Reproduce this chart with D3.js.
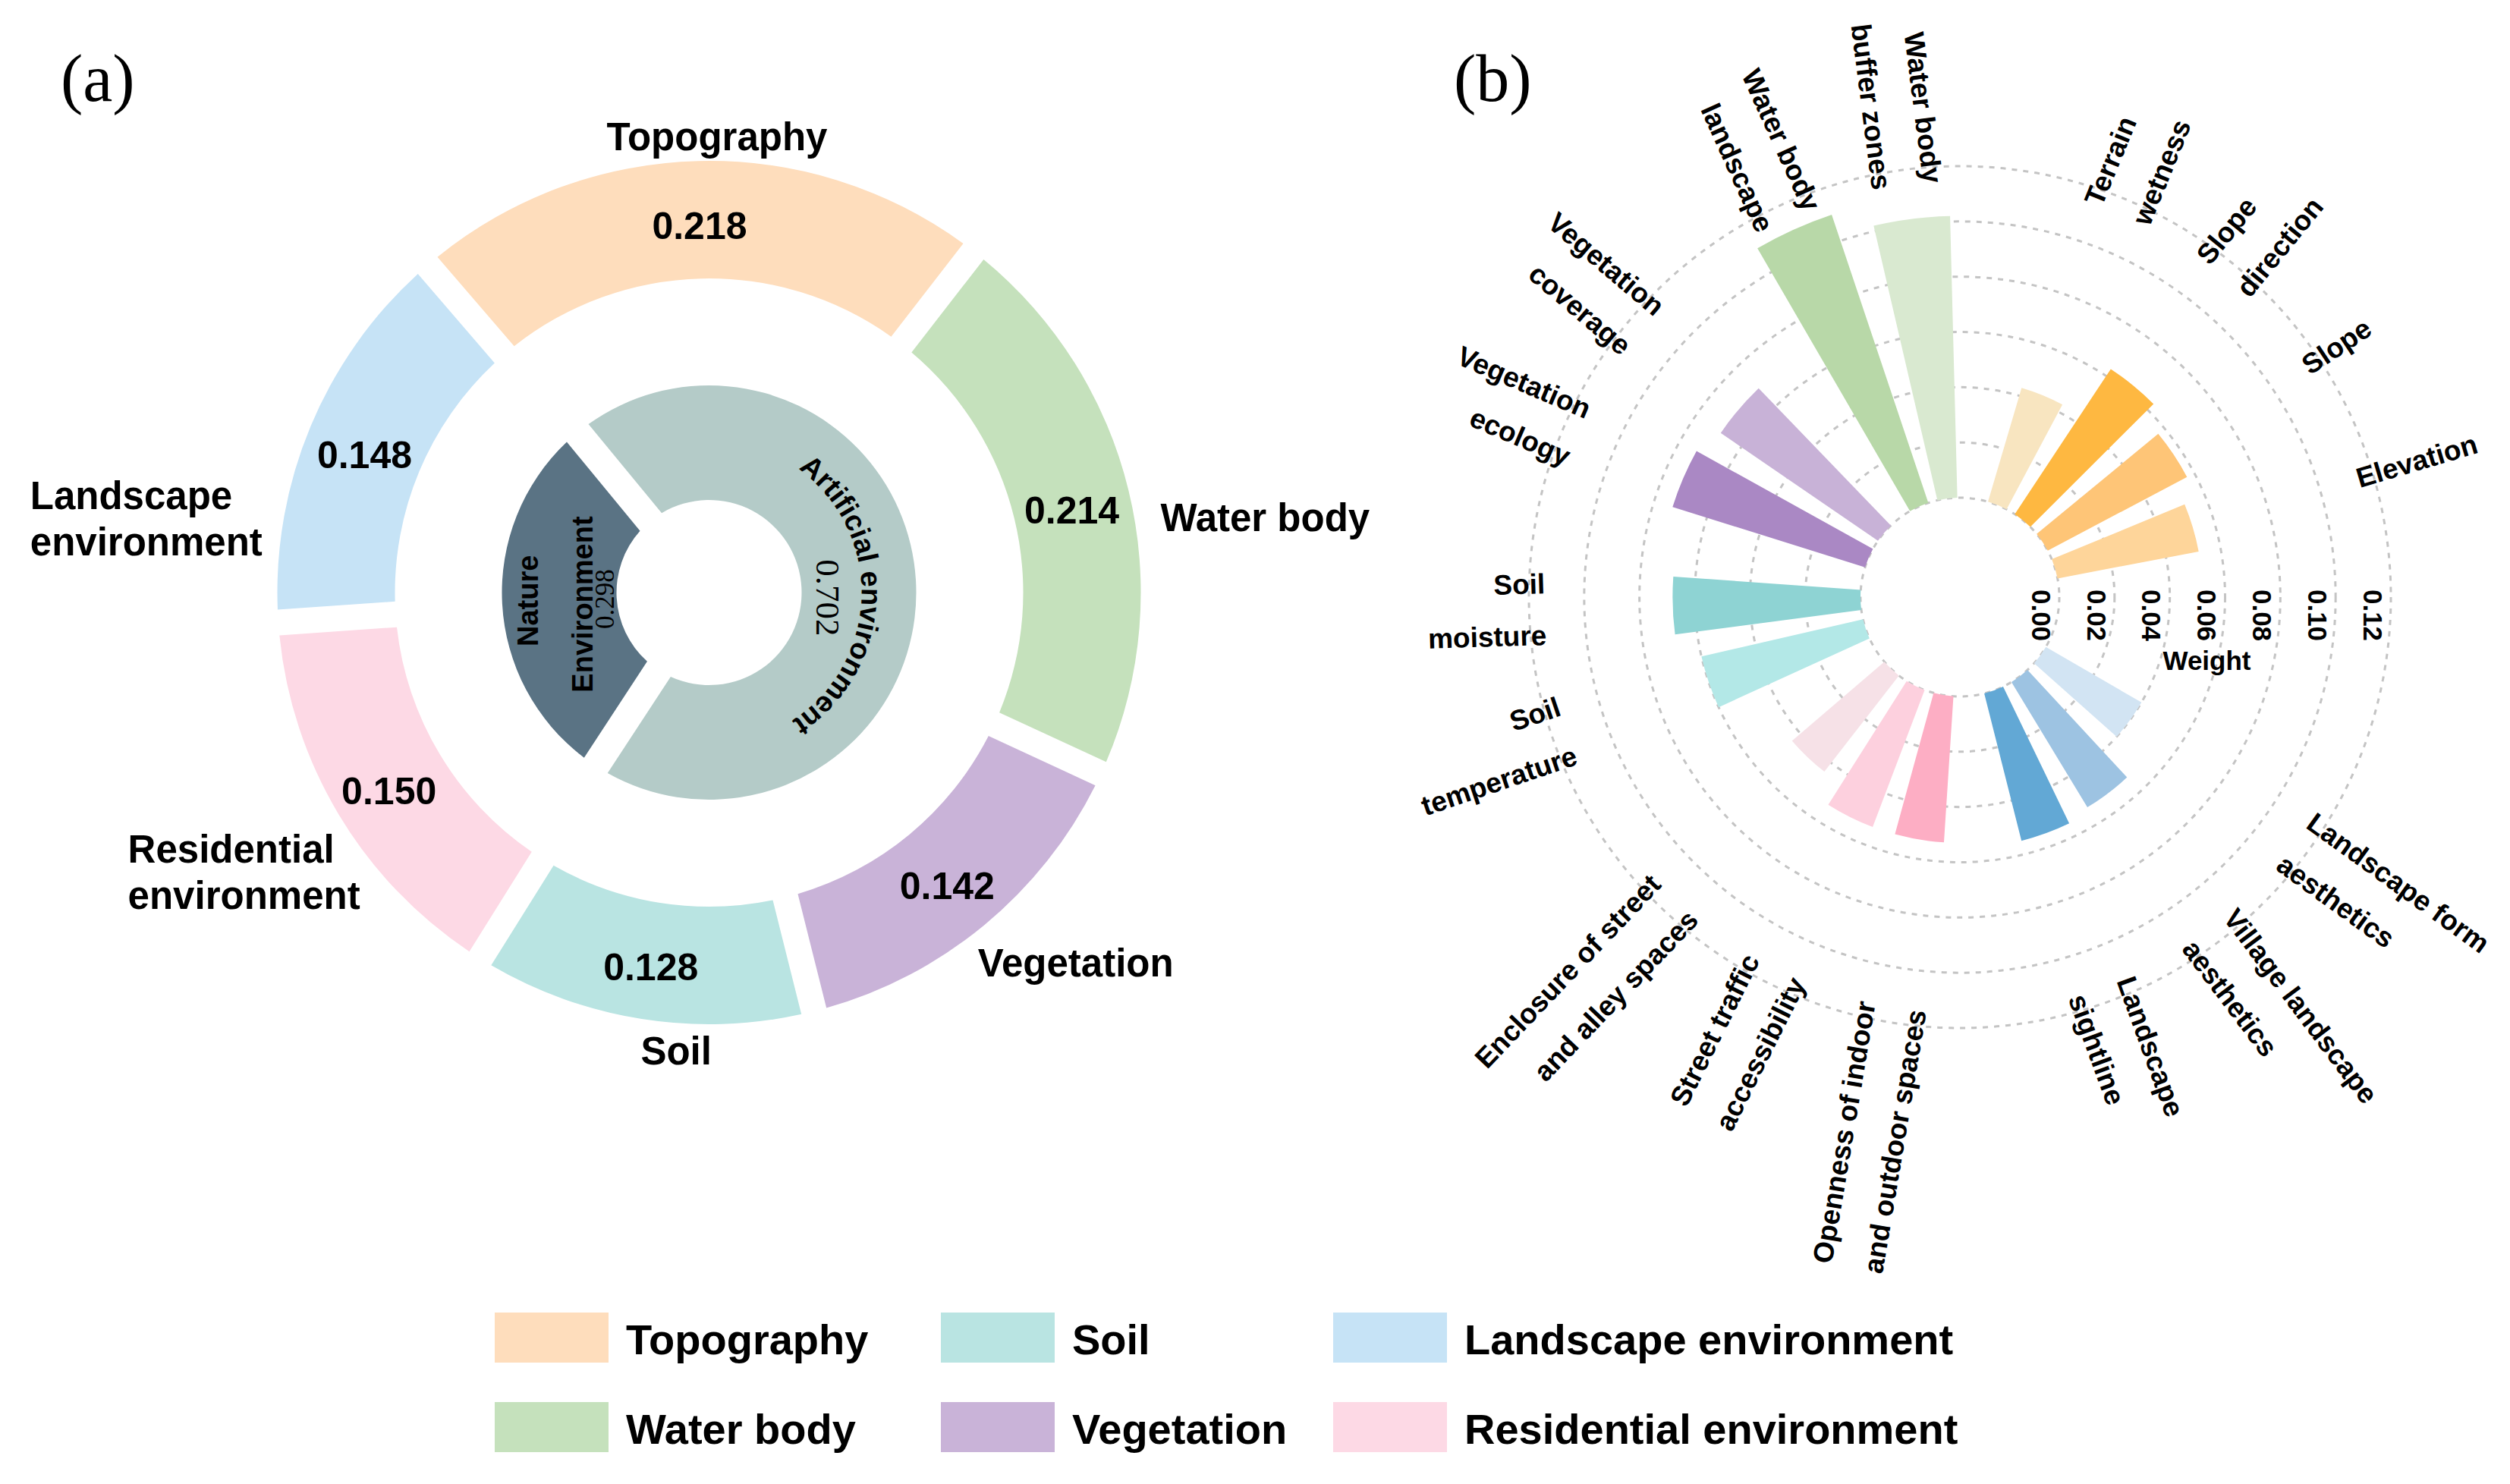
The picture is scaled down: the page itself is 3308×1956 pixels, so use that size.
<!DOCTYPE html>
<html><head><meta charset="utf-8">
<script src="https://cdn.jsdelivr.net/npm/d3@7"></script>
<style>body{margin:0;background:#fff} svg{display:block}</style>
</head><body>
<svg id="chart" width="3308" height="1956"></svg>
<script>
// ---------------- DATA ----------------
const groups = ["Topography","Water body","Vegetation","Soil","Residential environment","Landscape environment"];
const groupWeights = [0.218,0.214,0.142,0.128,0.150,0.148];
const groupColors = ["#FEDDBC","#C5E1BC","#C9B3D8","#B9E4E2","#FDD9E5","#C6E3F6"];
const groupLabelLines = [["Topography"],["Water body"],["Vegetation"],["Soil"],["Residential","environment"],["Landscape","environment"]];

const envNames = ["Artificial environment","Nature Environment"];
const envWeights = [0.702,0.298];
const envColors = ["#B4CBC8","#5A7384"];

const indicators = ["Terrain wetness","Slope direction","Slope","Elevation",
  "Landscape form aesthetics","Village landscape aesthetics","Landscape sightline",
  "Openness of indoor and outdoor spaces","Street traffic accessibility","Enclosure of street and alley spaces",
  "Soil temperature","Soil moisture","Vegetation ecology","Vegetation coverage",
  "Water body landscape","Water body buffer zones"];
const indicatorLabelLines = [["Terrain","wetness"],["Slope","direction"],["Slope"],["Elevation"],
  ["Landscape form","aesthetics"],["Village landscape","aesthetics"],["Landscape","sightline"],
  ["Openness of indoor","and outdoor spaces"],["Street traffic","accessibility"],["Enclosure of street","and alley spaces"],
  ["Soil","temperature"],["Soil","moisture"],["Vegetation","ecology"],["Vegetation","coverage"],
  ["Water body","landscape"],["Water body","buffer zones"]];
const indicatorGroups = ["Topography","Topography","Topography","Topography",
  "Landscape environment","Landscape environment","Landscape environment",
  "Residential environment","Residential environment","Residential environment",
  "Soil","Soil","Vegetation","Vegetation","Water body","Water body"];
const indicatorWeights = [0.043,0.063,0.057,0.052,0.040,0.053,0.055,0.053,0.053,0.044,0.060,0.068,0.073,0.069,0.110,0.102];
const indicatorColors = ["#F8E5C0","#FEB841","#FEC577","#FED59A","#D2E4F3","#9DC3E2","#62A8D5",
  "#FDAEC4","#FDD0DE","#F6E1E7","#B3E8E7","#8ED3D3","#AA88C4","#C8B2D7","#B8D8A8","#D9E9D0"];
const radialTicks = [0,0.02,0.04,0.06,0.08,0.10,0.12];
const radialTitle = "Weight";
const legendOrder = ["Topography","Soil","Landscape environment","Water body","Vegetation","Residential environment"];

// ---------------- LAYOUT ----------------
const SANS = "'Liberation Sans', Arial, sans-serif";
const SERIF = "'Liberation Serif', 'Times New Roman', serif";
const rad = d => d * Math.PI / 180;
const deg = r => r * 180 / Math.PI;
const polar = (r, a) => [r * Math.sin(rad(a)), -r * Math.cos(rad(a))];
const svg = d3.select("#chart");

svg.append("text").attr("x", 80).attr("y", 133).attr("font-family", SERIF).attr("font-size", 88).text("(a)");
svg.append("text").attr("x", 1916).attr("y", 133).attr("font-family", SERIF).attr("font-size", 88).text("(b)");

// ===== Panel (a) =====
const A = {cx: 934.5, cy: 781, startOuter: -40.7, startInner: -39.5};
const ga = svg.append("g").attr("transform", `translate(${A.cx},${A.cy})`);

const outerData = groups.map((g, i) => ({name: g, w: groupWeights[i], color: groupColors[i], lines: groupLabelLines[i]}));
const pieOuter = d3.pie().sort(null).value(d => d.w)
  .startAngle(rad(A.startOuter)).endAngle(rad(A.startOuter + 360));
const arcOuter = d3.arc().innerRadius(414).outerRadius(569).padAngle(0.06).padRadius(34 / 0.06);
const outerArcs = pieOuter(outerData);
ga.selectAll("path.outer").data(outerArcs).join("path").attr("class", "outer")
  .attr("d", arcOuter).attr("fill", d => d.data.color);

// value labels at the centroid of each slice
ga.selectAll("text.val").data(outerArcs).join("text").attr("class", "val")
  .attr("transform", d => {
    const m = deg((d.startAngle + d.endAngle) / 2);
    const [x, y] = polar(492, m);
    return `translate(${x},${y + 8})`;
  })
  .attr("text-anchor", "middle").attr("dy", "0.35em")
  .attr("font-family", SANS).attr("font-weight", "bold").attr("font-size", 50)
  .text(d => d3.format(".3f")(d.data.w));

// category labels: polar anchor (angle, radius, text-anchor)
const groupLabelPos = {
  "Topography": {a: 1.0, r: 601, anchor: "middle"},
  "Water body": {a: 80.6, r: 603, anchor: "start"},
  "Vegetation": {a: 135.3, r: 687, anchor: "middle"},
  "Soil": {a: 184.1, r: 606, anchor: "middle"},
  "Residential environment": {a: 244.3, r: 850, anchor: "start"},
  "Landscape environment": {a: 276.2, r: 900, anchor: "start"}
};
outerData.forEach(d => {
  const p = groupLabelPos[d.name];
  const [x, y] = polar(p.r, p.a);
  const n = d.lines.length;
  const t = ga.append("text").attr("font-family", SANS).attr("font-weight", "bold").attr("font-size", 51)
    .attr("text-anchor", p.anchor);
  d.lines.forEach((ln, i) => {
    t.append("tspan").attr("x", x).attr("y", y + (i - (n - 1) / 2) * 61).attr("dy", "0.35em").text(ln);
  });
});

// inner ring
const innerData = envNames.map((e, i) => ({name: e, w: envWeights[i], color: envColors[i]}));
const pieInner = d3.pie().sort(null).value(d => d.w)
  .startAngle(rad(A.startInner)).endAngle(rad(A.startInner + 360));
const arcInner = d3.arc().innerRadius(122).outerRadius(273).padAngle(0.06).padRadius(37 / 0.06);
const innerArcs = pieInner(innerData);
ga.selectAll("path.inner").data(innerArcs).join("path").attr("class", "inner")
  .attr("d", arcInner).attr("fill", d => d.data.color);

// Artificial environment: curved text
{
  const c = 91.5, R = 201;
  const p1 = polar(R, c - 80), p2 = polar(R, c + 80);
  ga.append("path").attr("id", "artPath").attr("fill", "none")
    .attr("d", `M${p1[0]},${p1[1]} A${R},${R} 0 0 1 ${p2[0]},${p2[1]}`);
  ga.append("text").attr("font-family", SANS).attr("font-weight", "bold").attr("font-size", 38)
    .append("textPath").attr("href", "#artPath").attr("startOffset", "50%").attr("text-anchor", "middle")
    .text(innerData[0].name);
  const [vx, vy] = polar(157, 92.5);
  ga.append("text").attr("transform", `translate(${vx},${vy}) rotate(90)`)
    .attr("text-anchor", "middle").attr("dy", "0.35em")
    .attr("font-family", SERIF).attr("font-size", 45).text(d3.format(".3f")(innerData[0].w));
}
// Nature Environment
{
  const natLines = innerData[1].name.split(" ");
  const spots = [{r: 239, a: 267.4}, {r: 168, a: 264.7}];
  natLines.forEach((ln, i) => {
    const [x, y] = polar(spots[i].r, spots[i].a);
    ga.append("text").attr("transform", `translate(${x},${y}) rotate(-90)`)
      .attr("text-anchor", "middle").attr("dy", "0.35em")
      .attr("font-family", SANS).attr("font-weight", "bold").attr("font-size", 38).text(ln);
  });
  const [x, y] = polar(138, 266.4);
  ga.append("text").attr("transform", `translate(${x},${y}) rotate(-90)`)
    .attr("text-anchor", "middle").attr("dy", "0.35em")
    .attr("font-family", SERIF).attr("font-size", 35).text(d3.format(".3f")(innerData[1].w));
}

// ===== Panel (b) =====
const B = {cx: 2583, cy: 787, start: 13.7, barFrac: 0.68, labelR: 546, lineGap: 68};
const groupGapAfter = {"Topography": 2.08, "Landscape environment": 0.73, "Residential environment": 0.62,
  "Soil": 0.46, "Vegetation": 0.49, "Water body": 0.73};
const gb = svg.append("g").attr("transform", `translate(${B.cx},${B.cy})`);

// angular positions in slot units
let pos = 0;
const barData = indicators.map((name, i) => {
  if (i > 0 && indicatorGroups[i] !== indicatorGroups[i - 1]) pos += groupGapAfter[indicatorGroups[i - 1]];
  const d = {name, lines: indicatorLabelLines[i], group: indicatorGroups[i], w: indicatorWeights[i],
    color: indicatorColors[i], u: pos + 0.5};
  pos += 1;
  return d;
});
const totalUnits = pos + groupGapAfter[indicatorGroups[indicatorGroups.length - 1]];
const angle = d3.scaleLinear().domain([0, totalUnits]).range([B.start, B.start + 360]);
const unitDeg = 360 / totalUnits;
const rScale = d3.scaleLinear().domain([0, 0.12]).range([131, 568]);

// grid
gb.selectAll("circle.grid").data(radialTicks).join("circle").attr("class", "grid")
  .attr("r", d => rScale(d)).attr("fill", "none").attr("stroke", "#C4C4C4")
  .attr("stroke-width", 3).attr("stroke-dasharray", "7 8");

// bars
const barArc = d3.arc().innerRadius(rScale(0)).outerRadius(d => rScale(d.w))
  .startAngle(d => rad(angle(d.u) - unitDeg * B.barFrac / 2))
  .endAngle(d => rad(angle(d.u) + unitDeg * B.barFrac / 2));
gb.selectAll("path.bar").data(barData).join("path").attr("class", "bar")
  .attr("d", barArc).attr("fill", d => d.color);

// tick labels
gb.selectAll("text.tick").data(radialTicks).join("text").attr("class", "tick")
  .attr("transform", d => `translate(${rScale(d) - 24},24) rotate(90)`)
  .attr("text-anchor", "middle").attr("dy", "0.35em")
  .attr("font-family", SANS).attr("font-weight", "bold").attr("font-size", 35)
  .text(d => d3.format(".2f")(d));
gb.append("text").attr("x", (rScale.range()[0] + rScale.range()[1]) / 2 - 24).attr("y", 84)
  .attr("text-anchor", "middle").attr("dy", "0.35em")
  .attr("font-family", SANS).attr("font-weight", "bold").attr("font-size", 35).text(radialTitle);

// indicator labels
barData.forEach(d => {
  const th = angle(d.u);
  const right = ((th % 360) + 360) % 360 < 180;
  const g = gb.append("g").attr("transform", `rotate(${right ? th - 90 : th + 90})`);
  const n = d.lines.length;
  const t = g.append("text").attr("font-family", SANS).attr("font-weight", "bold").attr("font-size", 37)
    .attr("text-anchor", right ? "start" : "end");
  d.lines.forEach((ln, i) => {
    t.append("tspan").attr("x", right ? B.labelR : -B.labelR)
      .attr("y", (i - (n - 1) / 2) * B.lineGap).attr("dy", "0.35em").text(ln);
  });
});

// ===== Legend =====
const legCols = [652, 1240, 1757], legRows = [1730, 1848];
legendOrder.forEach((name, i) => {
  const x = legCols[i % 3], y = legRows[Math.floor(i / 3)];
  const col = groupColors[groups.indexOf(name)];
  svg.append("rect").attr("x", x).attr("y", y).attr("width", 150).attr("height", 66).attr("fill", col);
  svg.append("text").attr("x", x + 173).attr("y", y + 55)
    .attr("font-family", SANS).attr("font-weight", "bold").attr("font-size", 56).text(name);
});
</script>
</body></html>
